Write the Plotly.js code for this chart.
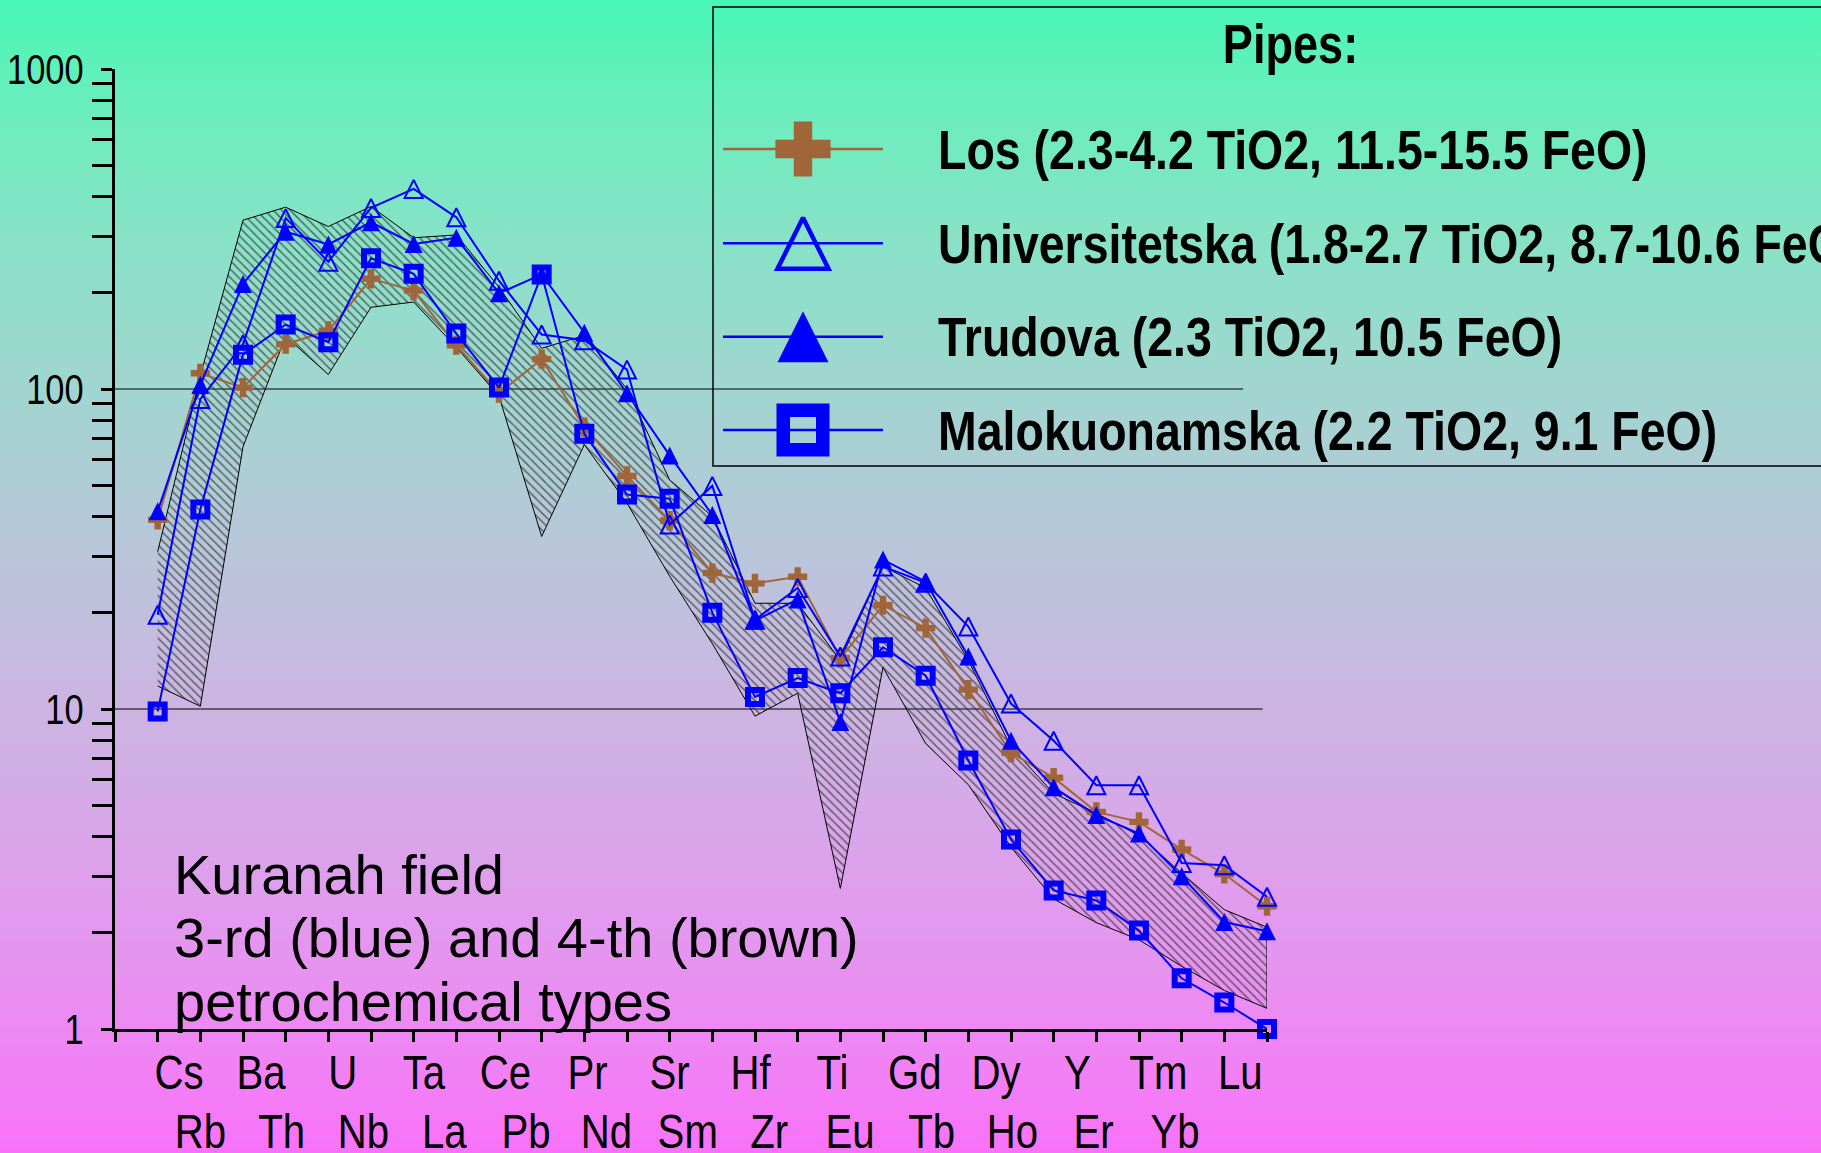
<!DOCTYPE html>
<html>
<head>
<meta charset="utf-8">
<script src="https://cdn.plot.ly/plotly-3.0.1.min.js"></script>
<style>
html, body { margin: 0; padding: 0; }
#chart { width: 1821px; height: 1153px; }
</style>
</head>
<body>
<div id="chart"></div>
<script>
// ---------------- data ----------------
const elements = ['Cs','Rb','Ba','Th','U','Nb','Ta','La','Ce','Pb','Pr','Nd','Sr','Sm','Hf','Zr','Ti','Eu','Gd','Tb','Dy','Ho','Y','Er','Tm','Yb','Lu'];
const losValues  = [39, 112, 101, 138, 152, 221, 203, 137, 97, 124, 76, 53.5, 38.8, 26.6, 24.7, 25.9, 14.4, 21.1, 17.9, 11.5, 7.3, 6.1, 4.77, 4.44, 3.64, 3.05, 2.42];
const univValues = [19.7, 93, 138, 342, 250, 368, 422, 344, 218, 148, 142, 115, 37.7, 49.8, 19.0, 23.9, 14.6, 27.9, 24.8, 18.1, 10.4, 7.96, 5.78, 5.78, 3.30, 3.25, 2.59];
const trudValues = [41.5, 103, 213, 310, 283, 332, 284, 297, 199, 228, 150, 97, 62, 40.4, 18.9, 22.0, 9.1, 29.3, 25.0, 14.6, 7.96, 5.69, 4.66, 4.08, 3.00, 2.16, 2.02];
const maloValues = [9.83, 42, 128, 159, 140, 256, 229, 149, 101, 228, 72.5, 46.8, 45.4, 20.0, 10.9, 12.5, 11.2, 15.6, 12.7, 6.9, 3.91, 2.71, 2.52, 2.03, 1.44, 1.21, 1.0];
const envelopeUpper = [31, 110, 337, 370, 322, 372, 297, 303, 208, 134, 147, 100, 52, 40, 21.4, 21.4, 14.2, 27.9, 23.9, 14.2, 7.6, 5.45, 4.72, 4.03, 3.07, 2.36, 2.08];
const envelopeLower = [11.8, 10.2, 66, 146, 111, 180, 187, 135, 95, 34.6, 67, 44, 26, 16, 9.5, 11.2, 2.75, 13.5, 7.8, 5.8, 3.7, 2.55, 2.15, 1.9, 1.57, 1.32, 1.16];
const yTickVals = [1, 10, 100, 1000];
const yTickText = ['1', '10', '100', '1000'];
const legendTitle = 'Pipes:';
const legendNames = [
  'Los (2.3-4.2 TiO2, 11.5-15.5 FeO)',
  'Universitetska (1.8-2.7 TiO2, 8.7-10.6 FeO)',
  'Trudova (2.3 TiO2, 10.5 FeO)',
  'Malokuonamska (2.2 TiO2, 9.1 FeO)'
];
const noteLines = ['Kuranah field', '3-rd (blue) and 4-th (brown)', 'petrochemical types'];

// ---------------- background gradient (interpolated in linear light) ----------------
(function () {
  const top = [70, 246, 182], bot = [248, 114, 249];
  const toLin = c => { c /= 255; return c <= 0.04045 ? c / 12.92 : Math.pow((c + 0.055) / 1.055, 2.4); };
  const toS = v => Math.round(255 * (v <= 0.0031308 ? 12.92 * v : 1.055 * Math.pow(v, 1 / 2.4) - 0.055));
  const stops = [];
  for (let i = 0; i <= 20; i++) {
    const t = i / 20;
    const c = top.map((a, j) => toS(toLin(a) + t * (toLin(bot[j]) - toLin(a))));
    stops.push('rgb(' + c.join(',') + ') ' + (t * 100) + '%');
  }
  document.getElementById('chart').style.background = 'linear-gradient(to bottom, ' + stops.join(', ') + ')';
})();

// ---------------- styling / layout helpers ----------------
const FONT = 'Liberation Sans, Arial, Helvetica, sans-serif';
const NARROW_FACTOR = 0.82;   // condensed lettering of the original
const BROWN = '#A0663A';
const BLUE = '#0000FF';
const W = 1821, H = 1153;
const L = 115, R = 1267, T = 69, B = 1029;
const px2x = p => (p - L) / (R - L);
const py2y = p => (B - p) / (B - T);

const idx = elements.map((_, i) => i + 1);

const minorVals = [];
[1, 10, 100].forEach(d => { for (let k = 2; k <= 9; k++) minorVals.push(k * d); });

const traces = [];

// envelope (hatched field)
traces.push({
  x: idx.concat(idx.slice().reverse()),
  y: envelopeUpper.concat(envelopeLower.slice().reverse()),
  mode: 'lines', fill: 'toself',
  line: { color: '#000', width: 1 },
  fillcolor: 'rgba(0,0,0,0)',
  fillpattern: { shape: '\\', size: 6, solidity: 0.25, fgcolor: '#3c3c3c', fgopacity: 0.75, bgcolor: 'rgba(0,0,0,0)', fillmode: 'overlay' },
  hoverinfo: 'skip', showlegend: false
});

const triData = 18;
traces.push({
  x: idx, y: losValues, mode: 'lines+markers',
  line: { color: BROWN, width: 2 },
  marker: { symbol: 'cross', size: 16, color: BROWN, line: { width: 0 } },
  cliponaxis: false, showlegend: false
});
traces.push({
  x: idx, y: univValues, mode: 'lines+markers',
  line: { color: BLUE, width: 2 },
  marker: { symbol: 'arrow-down-open', angle: 180, standoff: triData / 2, size: triData, color: BLUE, line: { color: BLUE, width: 2 } },
  cliponaxis: false, showlegend: false
});
traces.push({
  x: idx, y: trudValues, mode: 'lines+markers',
  line: { color: BLUE, width: 2 },
  marker: { symbol: 'arrow-down', angle: 180, standoff: triData / 2, size: triData, color: BLUE, line: { width: 0 } },
  cliponaxis: false, showlegend: false
});
traces.push({
  x: idx, y: maloValues, mode: 'lines+markers',
  line: { color: BLUE, width: 2 },
  marker: { symbol: 'square-open', size: 14, color: BLUE, line: { color: BLUE, width: 6 } },
  cliponaxis: false, showlegend: false
});

// ---------------- custom legend ----------------
const keyRows = [149, 243.3, 336.7, 430];
const keyX = px2x(803);
const triKey = 51;
const keyMarkers = [
  { symbol: 'cross', size: 46, color: BROWN, line: { width: 0 } },
  { symbol: 'arrow-down-open', angle: 180, standoff: triKey / 2, size: triKey, color: BLUE, line: { color: BLUE, width: 4.5 } },
  { symbol: 'arrow-down', angle: 180, standoff: triKey / 2, size: triKey, color: BLUE, line: { width: 0 } },
  { symbol: 'square-open', size: 39.5, color: BLUE, line: { color: BLUE, width: 13.5 } }
];
const keyColors = [BROWN, BLUE, BLUE, BLUE];
keyMarkers.forEach((m, i) => {
  traces.push({
    x: [keyX], y: [py2y(keyRows[i])], xaxis: 'x2', yaxis: 'y2',
    mode: 'markers', marker: m, cliponaxis: false, hoverinfo: 'skip', showlegend: false
  });
});

const shapes = [
  { type: 'line', xref: 'x', yref: 'paper', x0: 0, x1: 26.44, y0: 2 / 3, y1: 2 / 3, line: { color: '#000', width: 1 }, layer: 'below' },
  { type: 'line', xref: 'x', yref: 'paper', x0: 0, x1: 26.9, y0: 1 / 3, y1: 1 / 3, line: { color: '#000', width: 1 }, layer: 'below' },
  { type: 'rect', xref: 'paper', yref: 'paper', x0: px2x(713), x1: px2x(1900), y0: py2y(466), y1: py2y(7), line: { color: '#000', width: 1.5 }, fillcolor: 'rgba(0,0,0,0)', layer: 'below' }
];
keyRows.forEach((r, i) => {
  shapes.push({ type: 'line', xref: 'paper', yref: 'paper', x0: px2x(723), x1: px2x(883), y0: py2y(r), y1: py2y(r), line: { color: keyColors[i], width: 2.5 }, layer: 'below' });
});

const annotations = [];
const narrowMap = new Map();
function addAnn(a, factor) { if (factor) narrowMap.set(annotations.length, factor); annotations.push(a); }

addAnn({ xref: 'paper', yref: 'paper', x: px2x(1290), y: py2y(44), xanchor: 'center', yanchor: 'middle', showarrow: false, text: legendTitle, font: { family: FONT, size: 55, color: '#000', weight: 700 } }, NARROW_FACTOR);
legendNames.forEach((t, i) => {
  addAnn({ xref: 'paper', yref: 'paper', x: px2x(936), y: py2y(keyRows[i]), xanchor: 'left', yanchor: 'middle', showarrow: false, text: t, font: { family: FONT, size: 56, color: '#000', weight: 700 } }, 0.83);
});
const noteRows = [874, 937.5, 1001];
noteLines.forEach((t, i) => {
  addAnn({ xref: 'paper', yref: 'paper', x: px2x(172), y: py2y(noteRows[i]), xanchor: 'left', yanchor: 'middle', showarrow: false, text: t, font: { family: FONT, size: 56, color: '#000' } }, 0);
});
let k1 = 0, k2 = 0;
elements.forEach((el, i) => {
  if (i % 2 === 0) {
    addAnn({ xref: 'x', yref: 'paper', x: 1.51 + k1 * 1.913, y: py2y(1072), xanchor: 'center', yanchor: 'middle', showarrow: false, text: el, font: { family: FONT, size: 49, color: '#000' } }, NARROW_FACTOR);
    k1++;
  } else {
    addAnn({ xref: 'x', yref: 'paper', x: 2.01 + k2 * 1.903, y: py2y(1131), xanchor: 'center', yanchor: 'middle', showarrow: false, text: el, font: { family: FONT, size: 49, color: '#000' } }, NARROW_FACTOR);
    k2++;
  }
});

const layout = {
  width: W, height: H,
  margin: { l: L, r: W - R, t: T, b: H - B, pad: 0 },
  paper_bgcolor: 'rgba(0,0,0,0)', plot_bgcolor: 'rgba(0,0,0,0)',
  showlegend: false,
  font: { family: FONT, color: '#000' },
  xaxis: {
    range: [0, 27], showgrid: false, zeroline: false,
    showline: true, linecolor: '#000', linewidth: 3,
    ticks: 'outside', ticklen: 10, tickwidth: 3, tickcolor: '#000',
    tickmode: 'array', tickvals: [0].concat(idx), showticklabels: false,
    fixedrange: true
  },
  yaxis: {
    type: 'log', range: [0, 3], showgrid: false, zeroline: false,
    showline: true, linecolor: '#000', linewidth: 3,
    ticks: 'outside', ticklen: 11, tickwidth: 3, tickcolor: '#000',
    tickmode: 'array', tickvals: yTickVals, ticktext: yTickText,
    tickfont: { family: FONT, size: 42, color: '#000' },
    ticklabelstandoff: 9,
    minor: { tickmode: 'array', tickvals: minorVals, ticks: 'outside', ticklen: 20, tickwidth: 3, tickcolor: '#000', showgrid: false },
    fixedrange: true
  },
  xaxis2: { overlaying: 'x', range: [0, 1], visible: false, fixedrange: true },
  yaxis2: { overlaying: 'y', range: [0, 1], visible: false, fixedrange: true },
  shapes: shapes,
  annotations: annotations
};

function condense(el, anchorX, factor) {
  const prev = el.getAttribute('transform') || '';
  el.setAttribute('transform', (prev + ' translate(' + anchorX + ',0) scale(' + factor + ',1) translate(' + (-anchorX) + ',0)').trim());
}

Plotly.newPlot('chart', traces, layout, { staticPlot: true, displayModeBar: false }).then(gd => {
  gd.querySelectorAll('g.annotation').forEach(g => {
    const i = +g.getAttribute('data-index');
    const f = narrowMap.get(i);
    if (!f) return;
    const t = g.querySelector('text.annotation-text');
    if (!t) return;
    const bb = t.getBBox();
    const ax = annotations[i].xanchor === 'left' ? bb.x : bb.x + bb.width / 2;
    condense(t, ax, f);
  });
  gd.querySelectorAll('g.ytick text').forEach(t => {
    const bb = t.getBBox();
    condense(t, bb.x + bb.width, NARROW_FACTOR);
  });
});
</script>
</body>
</html>
